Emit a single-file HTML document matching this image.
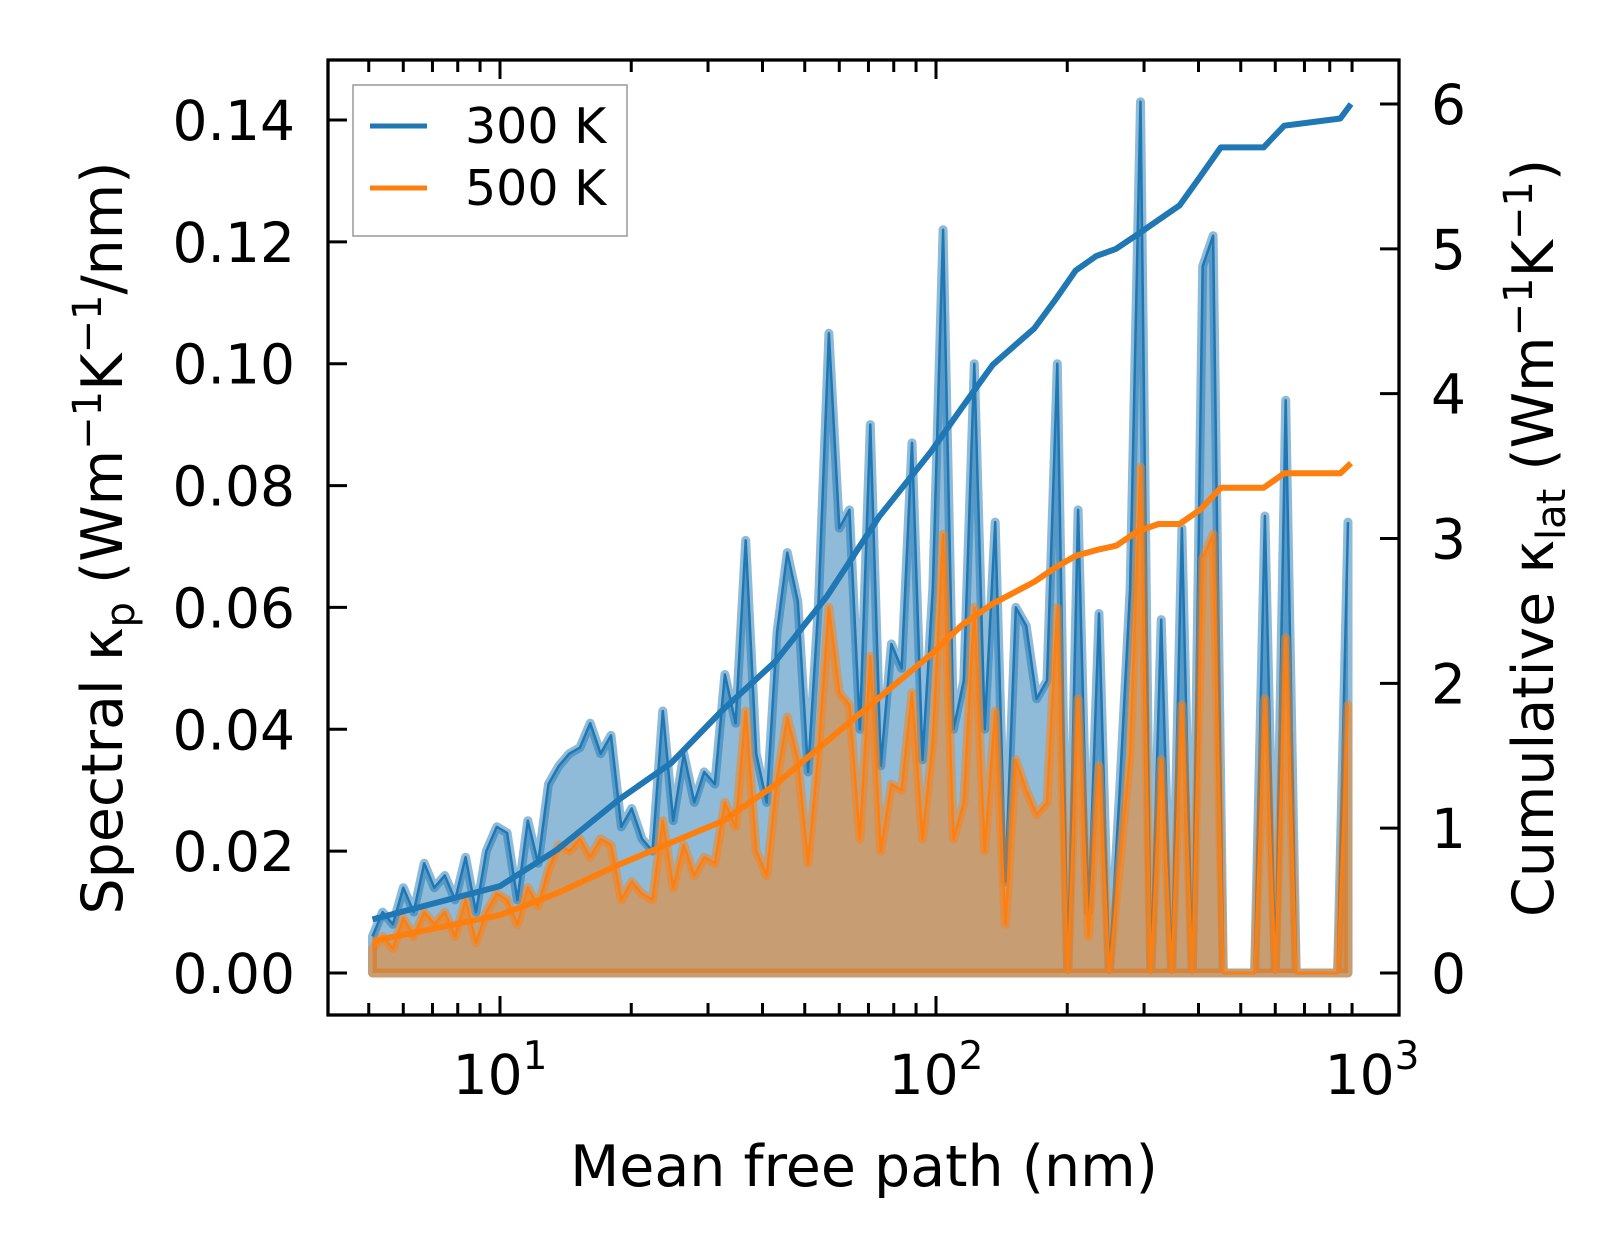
<!DOCTYPE html>
<html>
<head>
<meta charset="utf-8">
<style>
  html,body{margin:0;padding:0;background:#fff;}
  svg{display:block;font-family:"DejaVu Sans","Liberation Sans",sans-serif;}
</style>
</head>
<body>
<svg id="chart" width="1623" height="1254" viewBox="0 0 1623 1254" xmlns="http://www.w3.org/2000/svg">
  <rect x="0" y="0" width="1623" height="1254" fill="#fff"/>
  <g id="plot"></g>
  <g id="axes"></g>
  <text x="864" y="1186" font-size="57" text-anchor="middle">Mean free path (nm)</text>
  <text transform="translate(122,538) rotate(-90)" font-size="57" text-anchor="middle">Spectral κ<tspan font-size="40" dy="12">p</tspan><tspan dy="-12"> (Wm</tspan><tspan font-size="40" dy="-21">−1</tspan><tspan dy="21">K</tspan><tspan font-size="40" dy="-21">−1</tspan><tspan dy="21">/nm)</tspan></text>
  <text transform="translate(1553,538) rotate(-90)" font-size="57" text-anchor="middle">Cumulative κ<tspan font-size="40" dy="12">lat</tspan><tspan dy="-12"> (Wm</tspan><tspan font-size="40" dy="-21">−1</tspan><tspan dy="21">K</tspan><tspan font-size="40" dy="-21">−1</tspan><tspan dy="21">)</tspan></text>
  <g>
    <rect x="353" y="85" width="274" height="151" fill="#fff" fill-opacity="0.8" stroke="#999" stroke-width="1.5"/>
    <line x1="370" y1="126" x2="427" y2="126" stroke="#1f77b4" stroke-width="5"/>
    <text x="465" y="143" font-size="49">300 K</text>
    <line x1="370" y1="188" x2="427" y2="188" stroke="#ff7f0e" stroke-width="5"/>
    <text x="465" y="205" font-size="49">500 K</text>
  </g>
</svg>
<script>
const mfp = [5.10,5.38,5.68,6.00,6.34,6.70,7.07,7.47,7.89,8.34,8.81,9.30,9.83,10.38,10.96,11.58,12.23,12.92,13.65,14.42,15.25,16.10,17.01,17.97,18.98,20.05,21.18,22.37,23.63,24.96,26.4,27.9,29.4,31.1,32.8,34.7,36.6,38.7,40.9,43.2,45.6,48.2,50.9,53.7,56.8,60.0,63.3,66.9,70.7,74.7,79.0,83.4,88.1,93.1,98.3,103.8,109.7,115.8,122.4,129.3,136.7,144.3,152.4,161.0,170.1,179.7,189.8,200.5,211.8,223.7,236.5,249.7,263.8,278.7,294.4,311.0,328.5,347.0,366.5,387.2,409,432,456,482,509,538,568,600,634,670,708,747,790,834,881];
const spec300 = [0.006,0.010,0.008,0.014,0.010,0.018,0.014,0.016,0.012,0.019,0.010,0.020,0.024,0.023,0.012,0.025,0.018,0.031,0.034,0.036,0.037,0.041,0.036,0.039,0.024,0.027,0.022,0.020,0.043,0.025,0.036,0.028,0.033,0.031,0.049,0.041,0.071,0.036,0.028,0.056,0.069,0.061,0.033,0.060,0.105,0.073,0.076,0.040,0.090,0.034,0.054,0.050,0.087,0.035,0.063,0.122,0.040,0.048,0.100,0.040,0.074,0.015,0.060,0.057,0.045,0.048,0.100,0.000,0.076,0.010,0.059,0.000,0.030,0.063,0.143,0.000,0.058,0.000,0.073,0.000,0.116,0.121,0.000,0.000,0.000,0.000,0.075,0.000,0.094,0.000,0.000,0.000,0.000,0.000,0.074];
const spec500 = [0.004,0.006,0.004,0.009,0.006,0.010,0.008,0.010,0.006,0.012,0.005,0.010,0.013,0.012,0.008,0.014,0.011,0.017,0.021,0.020,0.022,0.019,0.022,0.021,0.012,0.015,0.013,0.012,0.025,0.014,0.021,0.016,0.019,0.018,0.028,0.024,0.043,0.020,0.016,0.032,0.042,0.035,0.018,0.036,0.060,0.046,0.044,0.022,0.052,0.020,0.031,0.030,0.046,0.022,0.038,0.072,0.022,0.028,0.060,0.020,0.043,0.008,0.035,0.030,0.026,0.028,0.060,0.000,0.045,0.006,0.034,0.000,0.018,0.036,0.083,0.000,0.035,0.000,0.044,0.000,0.068,0.072,0.000,0.000,0.000,0.000,0.045,0.000,0.055,0.000,0.000,0.000,0.000,0.000,0.044];
const cumMfp = [5.10,10,13.5,18.8,24.7,32.5,42.8,56.2,74.0,97.4,114.5,135,168,188,209,233,259,290,324,362,404,450,564,629,846,895];
const cum300 = [0.37,0.6,0.85,1.2,1.45,1.82,2.15,2.6,3.15,3.6,3.9,4.2,4.45,4.65,4.85,4.95,5.0,5.1,5.2,5.3,5.5,5.7,5.7,5.85,5.9,6.0];
const cum500 = [0.22,0.4,0.55,0.75,0.9,1.05,1.3,1.6,1.9,2.2,2.4,2.55,2.7,2.8,2.88,2.92,2.95,3.05,3.1,3.1,3.2,3.35,3.35,3.45,3.45,3.52];
const yTicksLeft = [0,0.02,0.04,0.06,0.08,0.10,0.12,0.14];
const yTickLabelsLeft = ["0.00","0.02","0.04","0.06","0.08","0.10","0.12","0.14"];
const yTicksRight = [0,1,2,3,4,5,6];
const xDecades = [1,2,3];

const NS = "http://www.w3.org/2000/svg";
const L = 328, R = 1399, T = 60, B = 1015;
function xs(m){ return 500 + (Math.log10(m) - 1) * 436; }
function yl(v){ return 973 - v * (853 / 0.14); }
function yr(c){ return 973 - c * (869 / 6); }
function mk(tag, attrs, parent){
  const e = document.createElementNS(NS, tag);
  for (const k in attrs) e.setAttribute(k, attrs[k]);
  parent.appendChild(e);
  return e;
}
const plot = document.getElementById('plot');
const axes = document.getElementById('axes');

function areaPath(vals){
  let d = 'M' + xs(mfp[0]) + ',' + yl(0);
  for (let i = 0; i < mfp.length; i++) d += 'L' + xs(mfp[i]).toFixed(1) + ',' + yl(vals[i]).toFixed(1);
  d += 'L' + xs(mfp[mfp.length-1]) + ',' + yl(0) + 'Z';
  return d;
}
function linePath(xv, yv, yf){
  let d = '';
  for (let i = 0; i < xv.length; i++) d += (i ? 'L' : 'M') + xs(xv[i]).toFixed(1) + ',' + yf(yv[i]).toFixed(1);
  return d;
}
const a1 = mk('path', {d: areaPath(spec300), fill: '#1f77b4', 'fill-opacity': 0.5, stroke: '#1f77b4', 'stroke-opacity': 0.5, 'stroke-width': 9, 'stroke-linejoin': 'round'}, plot);


const l1 = mk('path', {d: linePath(mfp, spec300, yl), fill: 'none', stroke: '#1f77b4', 'stroke-width': 2.5, 'stroke-linejoin': 'round'}, plot);


const a2 = mk('path', {d: areaPath(spec500), fill: '#ff7f0e', 'fill-opacity': 0.5, stroke: '#ff7f0e', 'stroke-opacity': 0.5, 'stroke-width': 9, 'stroke-linejoin': 'round'}, plot);


const l2 = mk('path', {d: linePath(mfp, spec500, yl), fill: 'none', stroke: '#ff7f0e', 'stroke-width': 2.5, 'stroke-linejoin': 'round'}, plot);


const c1 = mk('path', {d: linePath(cumMfp, cum300, yr), fill: 'none', stroke: '#1f77b4', 'stroke-width': 6, 'stroke-linejoin': 'round'}, plot);


const c2 = mk('path', {d: linePath(cumMfp, cum500, yr), fill: 'none', stroke: '#ff7f0e', 'stroke-width': 6, 'stroke-linejoin': 'round'}, plot);



const frame = mk('rect', {x: L, y: T, width: R - L, height: B - T, fill: 'none', stroke: '#000', 'stroke-width': 3.3}, axes);



for (let dec = 0; dec <= 2; dec++) {
  for (let k = 1; k <= 9; k++) {
    const m = k * Math.pow(10, dec);
    if (m < 5 || m > 1000) continue;
    const x = xs(m);
    if (x < L || x > R) continue;
    const len = k === 1 ? 19 : 12;
    const t1 = mk('line', {x1: x, x2: x, y1: B, y2: B - len, stroke: '#000', 'stroke-width': 3}, axes);
    
    
    const t2 = mk('line', {x1: x, x2: x, y1: T, y2: T + len, stroke: '#000', 'stroke-width': 3}, axes);
    
    
  }
}
xDecades.forEach(p => {
  const x = xs(Math.pow(10, p));
  const t = mk('text', {x: x, y: 1094, 'font-size': 55, 'text-anchor': 'middle'}, axes);
  
  
  t.textContent = '10';
  const s = mk('tspan', {'font-size': 39, dy: -25}, t);
  s.textContent = String(p);
});

yTicksLeft.forEach((v, i) => {
  const y = yl(v);
  const t = mk('line', {x1: L, x2: L + 19, y1: y, y2: y, stroke: '#000', 'stroke-width': 3}, axes);
  
  
  const lb = mk('text', {x: 295, y: y + 20, 'font-size': 55, 'text-anchor': 'end'}, axes);
  
  
  lb.textContent = yTickLabelsLeft[i];
});
yTicksRight.forEach(c => {
  const y = yr(c);
  const t = mk('line', {x1: R - 19, x2: R, y1: y, y2: y, stroke: '#000', 'stroke-width': 3}, axes);
  
  
  const lb = mk('text', {x: 1431, y: y + 20, 'font-size': 55, 'text-anchor': 'start'}, axes);
  
  
  lb.textContent = String(c);
});
</script>
</body>
</html>
